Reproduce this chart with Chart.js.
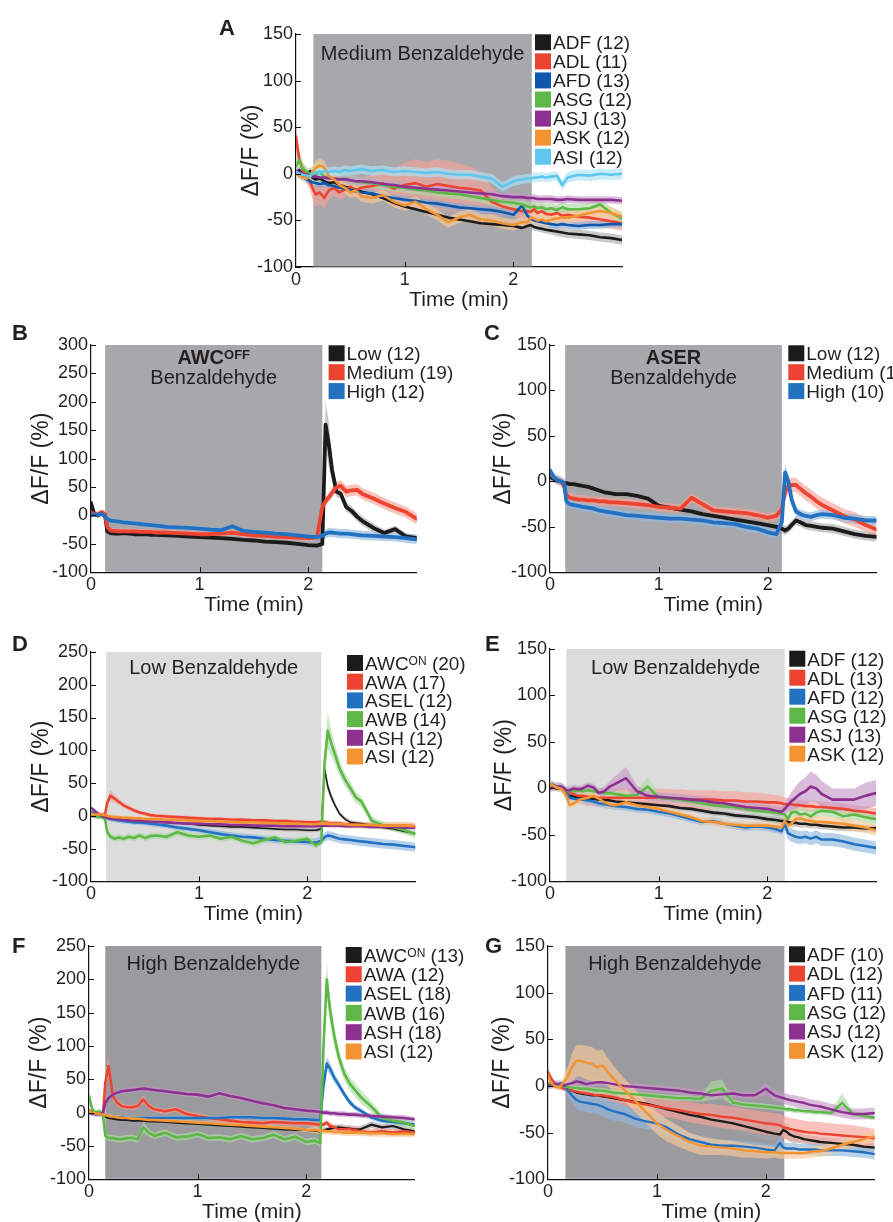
<!DOCTYPE html>
<html>
<head>
<meta charset="utf-8">
<title>Benzaldehyde responses</title>
<script src="https://cdn.jsdelivr.net/npm/chart.js"></script>
<style>
  html, body { margin: 0; padding: 0; background: #fff; }
  body { width: 893px; height: 1222px; position: relative; overflow: hidden; }
  canvas { position: absolute; }
  .letter { position: absolute; font: bold 22px "Liberation Sans", Arial, sans-serif; line-height: 22px; color: #231f20; z-index: 5; }
</style>
</head>
<body>
<script>
// time axis shared by every trace (minutes)
const tMin = [0, 0.03, 0.06, 0.1, 0.13, 0.15, 0.18, 0.22, 0.26, 0.3,
  0.35, 0.4, 0.45, 0.5, 0.55, 0.6, 0.7, 0.8, 0.9, 1.0,
  1.1, 1.2, 1.3, 1.4, 1.5, 1.6, 1.7, 1.8, 1.9, 2.0,
  2.08, 2.13, 2.16, 2.19, 2.22, 2.26, 2.3, 2.35, 2.4, 2.45,
  2.5, 2.6, 2.7, 2.8, 2.9, 3.0];
const xTicks = [0, 1, 2];

// ---- A: medium benzaldehyde, other sensory neurons ----
const legendA = ['ADF (12)', 'ADL (11)', 'AFD (13)', 'ASG (12)', 'ASJ (13)', 'ASK (12)', 'ASI (12)'];
const yTicksA = [-100, -50, 0, 50, 100, 150];
const a_ADF = [2,4,0,-2,3,-4,-6,-5,-8,-10, -9,-12,-14,-15,-17,-19,-22,-26,-31,-35, -38,-41,-44,-47,-49,-51,-53,-54,-55,-56, -58,-56,-55,-57,-58,-59,-60,-61,-62,-63, -64,-65,-66,-68,-69,-71];
const a_ADF_sem = [3,3,3,3,3,3,3,3,3,3, 3,3,3,3,3,3,3,3,3,3, 3,3,3,3,3,3,3,3,4,4, 4,4,4,4,4,4,4,4,5,5, 5,5,5,5,5,5];
const a_ADL = [40,15,5,-3,-8,-15,-22,-20,-26,-18, -15,-20,-17,-14,-18,-15,-13,-10,-16,-12, -10,-14,-11,-13,-15,-16,-18,-30,-35,-38, -40,-40,-41,-38,-42,-40,-43,-44,-42,-45, -44,-46,-47,-49,-51,-53];
const a_ADL_sem = [12,10,8,8,10,12,14,12,12,10, 8,8,8,8,9,10,12,16,20,24, 26,26,27,27,26,24,20,15,10,8, 8,8,8,8,8,8,8,8,8,8, 8,8,8,8,8,8];
const a_AFD = [2,0,-3,-6,-8,-9,-10,-11,-10,-12, -13,-15,-16,-17,-19,-20,-21,-24,-26,-28, -29,-31,-32,-34,-36,-37,-38,-39,-41,-44, -34,-45,-48,-50,-51,-52,-53,-54,-55,-54, -55,-56,-55,-55,-54,-54];
const a_AFD_sem = [4,4,4,4,4,4,4,4,4,4, 4,4,4,4,4,4,4,4,4,4, 4,4,4,4,4,4,4,4,4,4, 4,4,4,4,4,4,4,4,4,4, 4,4,4,4,4,4];
const a_ASG = [8,15,6,2,0,-2,-1,2,-3,-4, -5,-6,-5,-7,-8,-9,-10,-12,-14,-15, -17,-18,-20,-21,-22,-24,-26,-28,-30,-31, -33,-35,-36,-35,-37,-36,-38,-37,-39,-36, -38,-38,-37,-33,-42,-48];
const a_ASG_sem = [5,8,6,5,6,10,12,12,10,8, 6,6,5,5,5,5,5,5,5,5, 5,5,5,5,5,5,5,6,6,6, 6,6,6,6,6,6,6,6,6,6, 6,6,6,6,6,6];
const a_ASJ = [3,2,0,-1,-2,-3,-3,-4,-4,-5, -5,-6,-6,-7,-8,-8,-9,-11,-12,-14, -15,-16,-17,-18,-19,-20,-21,-22,-24,-25, -25,-26,-26,-26,-27,-27,-27,-27,-28,-28, -27,-28,-28,-28,-28,-29];
const a_ASJ_sem = [4,4,4,4,4,4,4,4,4,4, 4,4,4,4,4,4,4,4,4,4, 4,4,4,4,4,4,4,4,4,4, 4,4,4,4,4,4,4,4,4,4, 4,4,4,4,4,4];
const a_ASK = [0,-2,-4,-5,-3,2,6,9,7,-2, -6,-12,-15,-20,-18,-24,-26,-23,-30,-34, -30,-38,-44,-52,-47,-44,-49,-50,-53,-55, -52,-52,-47,-48,-50,-49,-51,-49,-48,-47, -47,-45,-42,-40,-42,-46];
const a_ASK_sem = [4,4,4,4,5,6,8,8,7,6, 6,6,6,6,6,6,6,6,6,6, 6,6,6,6,6,6,6,6,6,6, 6,6,6,6,6,6,6,6,6,6, 6,6,6,6,6,6];
const a_ASI = [2,0,-1,-2,-3,0,2,1,3,2, 3,2,4,3,4,5,3,4,2,3, 2,1,2,0,-1,-1,-3,-5,-14,-8, -6,-5,-5,-4,-4,-3,-4,-3,-2,-12, -4,-1,-2,0,-1,0];
const a_ASI_sem = [5,5,5,5,5,5,5,5,5,5, 5,5,5,5,5,5,5,5,5,5, 5,5,5,5,5,5,5,5,5,5, 5,5,5,5,5,5,5,5,5,5, 6,6,6,6,6,6];

// ---- B: AWC-OFF at three concentrations ----
const legendB = ['Low (12)', 'Medium (19)', 'High (12)'];
const yTicksB = [-100, -50, 0, 50, 100, 150, 200, 250, 300];
const b_low = [22,2,0,3,0,-28,-31,-32,-32,-31, -32,-33,-33,-33,-34,-34,-35,-36,-37,-38, -39,-40,-41,-43,-44,-46,-47,-48,-50,-52, -53,-50,160,125,80,42,38,15,8,-2, -10,-22,-31,-24,-37,-40];
const b_low_sem = [5,3,3,3,3,4,4,4,4,4, 4,4,4,4,4,4,4,4,4,4, 4,4,4,4,4,4,4,4,4,4, 4,4,40,40,20,10,8,8,8,8, 8,8,6,6,6,6];
const b_med = [5,3,2,6,2,-20,-27,-27,-28,-28, -28,-28,-29,-29,-29,-30,-30,-31,-32,-33, -33,-32,-30,-33,-35,-36,-37,-38,-39,-40, -39,15,25,32,40,50,52,42,44,45, 38,30,21,13,6,-6];
const b_med_sem = [5,5,5,5,5,5,5,5,5,5, 5,5,5,5,5,5,5,5,5,5, 5,5,5,5,5,5,5,5,5,5, 5,6,8,8,9,10,10,10,10,10, 10,10,10,10,10,10];
const b_high = [0,2,1,3,-2,-6,-9,-10,-11,-12, -13,-14,-15,-16,-17,-18,-20,-21,-22,-23, -25,-26,-19,-27,-29,-30,-32,-33,-35,-37, -38,-36,-32,-30,-30,-31,-32,-32,-33,-34, -35,-36,-37,-38,-40,-42];
const b_high_sem = [4,4,4,4,4,4,4,4,4,4, 4,4,4,4,4,4,4,4,4,4, 4,4,4,4,4,4,4,4,4,4, 4,6,8,8,8,8,8,8,8,8, 8,8,8,8,8,8];

// ---- C: ASER at three concentrations ----
const legendC = ['Low (12)', 'Medium (11)', 'High (10)'];
const yTicksC = [-100, -50, 0, 50, 100, 150];
const c_low = [5,3,1,0,-2,-2,-3,-3,-4,-5, -6,-8,-10,-12,-13,-14,-14,-16,-19,-27, -29,-31,-33,-36,-38,-40,-42,-44,-46,-48, -50,-52,-54,-52,-48,-43,-45,-48,-49,-50, -51,-52,-55,-58,-60,-61];
const c_low_sem = [4,4,4,4,4,4,4,4,4,4, 4,4,4,4,4,4,4,4,4,4, 4,4,4,4,4,4,4,4,4,4, 5,5,5,5,5,5,5,5,5,5, 5,5,5,5,5,5];
const c_med = [8,5,2,0,-5,-15,-18,-19,-20,-20, -21,-21,-22,-22,-23,-23,-24,-25,-26,-28, -29,-30,-18,-25,-32,-33,-34,-35,-37,-40, -38,-30,-12,-5,-4,-4,-8,-13,-17,-22, -26,-32,-38,-42,-48,-53];
const c_med_sem = [5,5,5,5,5,5,5,5,5,5, 5,5,5,5,5,5,5,5,5,5, 5,5,5,5,5,5,5,5,5,5, 5,8,8,8,8,8,8,8,8,8, 8,8,8,8,8,8];
const c_high = [12,5,2,0,-2,-22,-25,-26,-27,-28, -29,-30,-32,-33,-34,-35,-37,-38,-39,-40, -41,-41,-42,-43,-45,-46,-47,-50,-52,-56, -58,-45,10,0,-20,-33,-36,-38,-39,-37, -36,-37,-40,-41,-43,-43];
const c_high_sem = [5,5,5,5,5,5,5,5,5,5, 5,5,5,5,5,5,5,5,5,5, 5,5,5,5,5,5,5,5,5,5, 5,8,8,8,6,5,5,5,5,5, 5,5,5,5,5,5];

// ---- D: low benzaldehyde, AWC-ON and friends ----
const legendD = ['AWC^ON (20)', 'AWA (17)', 'ASEL (12)', 'AWB (14)', 'ASH (12)', 'ASI (12)'];
const yTicksD = [-100, -50, 0, 50, 100, 150, 200, 250];
const d_awc = [5,3,1,0,-1,-2,-3,-4,-5,-5, -6,-7,-7,-8,-9,-9,-10,-11,-12,-14, -15,-16,-17,-17,-18,-19,-20,-21,-21,-22, -22,-20,72,45,30,15,3,-5,-10,-11, -12,-15,-18,-20,-24,-27];
const d_awc_sem = [3,3,3,3,3,3,3,3,3,3, 3,3,3,3,3,3,3,3,3,3, 3,3,3,3,3,3,3,3,3,3, 3,3,10,8,6,4,3,3,3,3, 3,3,3,3,3,3];
const d_awa = [0,1,1,2,2,20,31,26,21,16, 12,8,5,3,1,0,-1,-2,-3,-4, -5,-5,-6,-6,-7,-7,-8,-8,-9,-10, -10,-9,-10,-11,-12,-12,-12,-13,-13,-13, -14,-14,-15,-15,-15,-16];
const d_awa_sem = [3,3,3,3,3,5,8,6,5,4, 4,3,3,3,3,3,3,3,3,3, 3,3,3,3,3,3,3,3,3,3, 3,3,4,4,4,4,4,4,4,4, 4,4,4,5,5,5];
const d_asel = [5,3,1,0,-2,-3,-5,-6,-7,-8, -9,-10,-10,-11,-12,-13,-15,-18,-20,-22, -25,-28,-30,-32,-33,-35,-37,-38,-39,-40, -41,-38,-33,-30,-31,-33,-35,-36,-37,-38, -39,-41,-43,-44,-46,-48];
const d_asel_sem = [4,4,4,4,4,4,4,4,4,4, 4,4,4,4,4,4,4,4,4,4, 5,5,5,5,5,5,5,5,5,5, 7,7,7,7,7,7,7,7,7,7, 7,7,7,7,7,7];
const d_awb = [0,-1,-2,-2,-5,-25,-32,-35,-33,-35, -32,-34,-30,-34,-31,-30,-32,-25,-30,-32, -30,-35,-32,-38,-42,-37,-33,-40,-38,-35, -45,-40,80,130,112,92,72,55,42,28, 22,-8,-14,-18,-22,-28];
const d_awb_sem = [3,3,3,3,3,5,5,5,5,5, 5,5,5,5,5,5,5,5,5,5, 5,5,5,5,5,5,5,5,5,5, 5,5,15,28,20,15,12,10,10,8, 8,6,6,6,6,6];
const d_ash = [12,8,4,0,-2,-3,-4,-5,-6,-6, -7,-7,-8,-8,-9,-9,-10,-11,-12,-12, -13,-13,-14,-14,-15,-15,-15,-16,-16,-16, -16,-15,-15,-15,-15,-15,-15,-16,-16,-16, -16,-17,-17,-17,-18,-18];
const d_ash_sem = [3,3,3,3,3,3,3,3,3,3, 3,3,3,3,3,3,3,3,3,3, 3,3,3,3,3,3,3,3,3,3, 3,3,3,3,3,3,3,3,3,3, 3,3,3,3,3,3];
const d_asi = [3,2,2,2,1,0,-1,-2,-2,-3, -3,-4,-4,-5,-5,-5,-6,-6,-7,-8, -8,-9,-9,-10,-10,-11,-11,-12,-12,-13, -13,-12,-12,-12,-13,-13,-13,-13,-14,-14, -14,-14,-15,-15,-15,-16];
const d_asi_sem = [3,3,3,3,3,3,3,3,3,3, 3,3,3,3,3,3,3,3,3,3, 3,3,3,3,3,3,3,3,3,3, 5,5,5,5,5,5,5,5,5,5, 5,5,5,5,5,5];

// ---- E: low benzaldehyde, other sensory neurons ----
const legendE = ['ADF (12)', 'ADL (13)', 'AFD (12)', 'ASG (12)', 'ASJ (13)', 'ASK (12)'];
const yTicksE = [-100, -50, 0, 50, 100, 150];
const e_adf = [2,1,0,0,-2,-5,-8,-9,-10,-10, -11,-11,-12,-12,-13,-14,-15,-16,-17,-18, -19,-21,-22,-24,-26,-27,-29,-30,-31,-33, -34,-35,-35,-36,-37,-37,-38,-38,-39,-39, -40,-41,-42,-42,-43,-43];
const e_adf_sem = [3,3,3,3,3,3,3,3,3,3, 3,3,3,3,3,3,3,3,3,3, 3,3,3,3,3,3,3,3,3,3, 4,4,4,4,4,4,4,4,4,4, 4,4,4,4,4,4];
const e_adl = [3,2,1,0,-2,-4,-5,-6,-8,-8, -9,-9,-10,-10,-10,-10,-10,-10,-10,-10, -11,-11,-12,-12,-12,-13,-13,-14,-14,-15, -15,-16,-17,-17,-17,-18,-18,-19,-19,-20, -20,-21,-22,-24,-25,-27];
const e_adl_sem = [3,3,3,3,4,5,6,7,8,9, 10,10,10,10,10,10,10,10,10,10, 10,10,10,10,10,10,10,10,10,9, 8,8,7,7,7,7,6,6,6,6, 6,6,6,6,6,6];
const e_afd = [5,4,2,2,0,-5,-10,-11,-12,-12, -13,-14,-16,-17,-18,-19,-20,-22,-23,-25, -27,-30,-33,-36,-35,-38,-40,-42,-41,-42, -44,-46,-38,-48,-50,-52,-53,-52,-54,-52, -55,-55,-57,-60,-62,-64];
const e_afd_sem = [4,4,4,4,4,4,4,4,4,4, 4,4,4,4,4,4,4,4,4,4, 4,4,4,4,4,4,4,4,4,4, 4,4,7,7,7,7,7,7,7,7, 7,7,7,7,7,7];
const e_asg = [3,2,1,0,-1,-2,-3,-3,-2,-3, -2,-3,-4,-5,-5,-6,-8,-7,2,-10, -11,-12,-14,-16,-18,-19,-20,-22,-24,-25, -26,-27,-28,-33,-26,-25,-28,-27,-30,-26, -24,-25,-30,-28,-31,-33];
const e_asg_sem = [4,4,4,4,4,4,4,4,4,4, 4,4,4,4,4,4,4,4,10,4, 4,4,4,4,4,4,4,4,4,4, 4,4,6,6,6,6,6,6,6,6, 6,6,6,6,6,6];
const e_asj = [0,1,2,2,0,-2,-2,0,-1,0, 3,1,-5,-3,2,5,11,-3,-8,-9, -10,-11,-12,-13,-15,-16,-18,-20,-21,-22, -24,-25,-22,-18,-14,-10,-6,-3,2,0, -6,-12,-12,-12,-8,-5];
const e_asj_sem = [4,4,4,4,4,4,4,4,4,4, 4,4,5,5,6,8,12,6,5,5, 5,5,5,5,5,5,5,5,5,5, 5,5,6,8,10,12,14,15,16,15, 14,12,12,12,14,14];
const e_ask = [5,3,1,0,-4,-8,-18,-16,-13,-11, -10,-8,-11,-15,-17,-18,-15,-18,-20,-22, -25,-28,-31,-35,-36,-38,-39,-40,-40,-40, -41,-42,-35,-40,-38,-33,-32,-34,-35,-36, -36,-37,-38,-40,-42,-45];
const e_ask_sem = [4,4,4,4,4,4,4,4,4,4, 4,4,4,4,4,4,4,4,4,4, 4,4,4,4,4,4,4,4,4,4, 4,4,6,6,6,6,6,6,6,6, 6,6,6,6,6,6];

// ---- F: high benzaldehyde, AWC-ON and friends ----
const legendF = ['AWC^ON (13)', 'AWA (12)', 'ASEL (18)', 'AWB (16)', 'ASH (18)', 'ASI (12)'];
const yTicksF = [-100, -50, 0, 50, 100, 150, 200, 250];
const f_awc = [3,1,0,-2,-4,-6,-8,-9,-10,-11, -11,-12,-12,-12,-13,-13,-14,-15,-16,-17, -18,-19,-20,-21,-22,-23,-24,-25,-26,-26, -27,-28,-27,-25,-24,-23,-22,-23,-24,-25, -25,-18,-22,-20,-25,-28];
const f_awc_sem = [3,3,3,3,3,3,3,3,3,3, 3,3,3,3,3,3,3,3,3,3, 3,3,3,3,3,3,3,3,3,3, 3,3,4,4,4,4,5,5,5,5, 5,5,5,5,5,5];
const f_awa = [0,-1,-2,-2,0,45,70,25,15,10, 8,8,10,20,10,5,2,5,-2,-5, -8,-10,-12,-14,-15,-16,-14,-15,-16,-16, -17,-18,-18,-15,-20,-22,-25,-25,-25,-26, -28,-30,-28,-30,-28,-30];
const f_awa_sem = [3,3,3,3,3,10,15,6,5,4, 4,4,4,6,4,4,4,4,4,4, 4,4,4,4,4,4,4,4,4,4, 4,4,4,4,5,5,5,5,5,5, 5,5,5,5,5,5];
const f_asel = [0,-1,-2,-2,-3,-4,-5,-6,-7,-7, -8,-8,-8,-8,-8,-8,-8,-8,-8,-8, -8,-8,-7,-7,-7,-8,-8,-9,-10,-10, -11,-11,40,74,66,52,42,28,16,8, 3,-7,-12,-14,-16,-18];
const f_asel_sem = [3,3,3,3,3,3,3,3,3,3, 3,3,3,3,3,3,3,3,3,3, 3,3,3,3,3,3,3,3,3,3, 3,3,8,10,9,7,6,5,5,4, 4,4,4,4,4,4];
const f_awb = [25,5,0,2,-5,-35,-38,-38,-40,-40, -38,-38,-40,-22,-30,-35,-30,-37,-36,-32, -38,-37,-40,-35,-40,-38,-33,-40,-36,-44, -42,-46,100,200,154,114,84,59,44,34, 24,9,-8,-12,-15,-20];
const f_awb_sem = [4,4,4,4,4,5,5,5,5,5, 5,5,5,8,6,5,5,5,5,5, 5,5,5,5,5,5,5,5,5,5, 5,5,15,25,20,15,12,10,10,10, 10,8,6,6,6,6];
const f_ash = [0,-1,-2,-2,0,15,22,27,30,32, 33,34,35,36,35,34,32,30,28,27, 24,29,25,22,18,14,11,7,5,3, 2,1,0,0,-1,-1,-2,-2,-3,-3, -4,-5,-6,-7,-8,-10];
const f_ash_sem = [4,4,4,4,4,4,4,4,4,4, 4,4,4,4,4,4,4,4,4,4, 4,4,4,4,4,4,4,4,4,4, 4,4,4,4,4,4,4,4,4,4, 4,4,4,4,4,4];
const f_asi = [2,0,-1,-2,-3,-4,-5,-6,-7,-8, -8,-9,-9,-10,-11,-11,-12,-13,-14,-15, -16,-17,-18,-19,-20,-21,-22,-23,-24,-26, -26,-27,-27,-28,-28,-29,-29,-30,-30,-30, -30,-31,-31,-32,-32,-32];
const f_asi_sem = [3,3,3,3,3,3,3,3,3,3, 3,3,3,3,3,3,3,3,3,3, 3,3,3,3,3,3,3,3,3,3, 5,5,5,5,5,5,5,5,5,5, 5,5,5,5,5,5];

// ---- G: high benzaldehyde, other sensory neurons ----
const legendG = ['ADF (10)', 'ADL (12)', 'AFD (11)', 'ASG (12)', 'ASJ (12)', 'ASK (12)'];
const yTicksG = [-100, -50, 0, 50, 100, 150];
const g_adf = [2,1,0,0,-1,-2,-4,-5,-7,-8, -9,-10,-10,-11,-12,-13,-15,-17,-19,-22, -25,-28,-31,-33,-36,-38,-40,-43,-46,-49, -51,-52,-47,-49,-52,-54,-55,-57,-58,-59, -60,-61,-62,-63,-65,-66];
const g_adf_sem = [3,3,3,3,3,3,3,3,3,3, 3,3,3,3,4,4,4,5,5,6, 6,7,7,8,8,8,8,8,8,8, 8,8,8,8,8,7,6,5,5,5, 5,5,5,5,5,5];
const g_adl = [15,8,3,0,-2,-3,-4,-5,-6,-7, -8,-9,-10,-10,-11,-12,-15,-18,-20,-22, -24,-26,-28,-30,-31,-33,-34,-36,-38,-40, -41,-42,-44,-45,-46,-47,-48,-49,-50,-50, -51,-52,-53,-54,-55,-56];
const g_adl_sem = [4,3,3,3,3,3,3,3,3,4, 4,4,4,5,5,5,6,7,8,9, 10,10,11,11,12,12,12,12,12,12, 12,12,12,12,12,12,12,12,12,12, 12,12,12,12,11,10];
const g_afd = [0,1,2,2,3,2,-5,-10,-15,-17, -18,-19,-20,-22,-25,-27,-30,-35,-38,-40, -45,-52,-57,-60,-63,-64,-64,-65,-66,-68, -69,-61,-66,-67,-67,-67,-68,-68,-68,-68, -69,-69,-69,-70,-71,-73];
const g_afd_sem = [3,3,3,3,3,3,6,8,9,10, 10,10,10,10,10,10,9,9,8,8, 8,7,7,6,6,6,6,6,6,6, 6,6,6,6,6,6,6,6,6,6, 6,6,6,6,6,6];
const g_asg = [3,2,1,0,0,-1,-1,-2,-2,-3, -3,-4,-5,-5,-6,-7,-8,-9,-10,-11, -12,-13,-13,-14,-5,-3,-18,-20,-21,-22, -23,-24,-24,-25,-25,-26,-26,-27,-27,-28, -28,-29,-18,-30,-32,-34];
const g_asg_sem = [3,3,3,3,3,3,3,3,3,3, 3,3,3,3,3,3,3,3,3,3, 3,3,3,3,10,10,3,3,3,3, 3,3,3,3,3,3,3,3,3,3, 3,3,10,3,3,3];
const g_asj = [0,1,2,2,1,0,2,3,5,4, 2,3,4,4,3,2,0,-1,-2,-3, -4,-5,-7,-8,-10,-9,-8,-10,-10,-3, -10,-12,-13,-14,-15,-16,-17,-18,-20,-21, -22,-25,-28,-30,-30,-29];
const g_asj_sem = [4,4,4,4,4,4,4,4,4,4, 4,4,4,4,4,4,4,4,4,4, 4,4,4,4,4,4,4,4,4,6, 6,6,6,6,6,6,6,6,6,6, 6,6,6,6,6,6];
const g_ask = [12,3,0,-2,2,5,10,20,27,27, 25,24,20,22,15,8,-4,-16,-28,-40, -48,-54,-60,-64,-65,-66,-67,-69,-70,-71, -71,-72,-72,-72,-72,-72,-72,-72,-71,-70, -70,-67,-63,-60,-57,-54];
const g_ask_sem = [3,3,3,3,5,8,10,15,17,17, 18,18,18,17,15,14,12,12,12,12, 12,11,10,10,9,8,8,8,7,7, 6,6,6,6,6,6,6,6,6,6, 6,6,6,6,6,6];

const FONT = '"Liberation Sans", Arial, Helvetica, sans-serif';
const INK = '#231f20';
const C = {
  black: '#1b1b1b', red: '#ec4431', blue: '#2372c2', navy: '#0d57ad',
  green: '#5db847', purple: '#8d3190', orange: '#f39433', sky: '#5fc7ee'
};

// error bands: a pale tint of the line colour, mostly opaque
function bandColor(hex) {
  if (hex === C.black) return 'rgba(165, 165, 165, 0.6)';
  const n = parseInt(hex.slice(1), 16);
  const tint = v => Math.round(v + (255 - v) * 0.5);
  return `rgba(${tint(n >> 16)}, ${tint((n >> 8) & 255)}, ${tint(n & 255)}, 0.65)`;
}

const panels = [
  { letter: 'A', letterAt: [219, 17], box: [296, 34, 622, 267], yTicks: yTicksA, stim: [0.16, 2.17], stimFill: '#a8a8ac',
    stimText: ['Medium Benzaldehyde'], stimBold: false, stimTextY: [19], titleOff: 44, legendAt: [535, 42.3], legendRow: 19.07,
    names: legendA, series: [a_ADF, a_ADL, a_AFD, a_ASG, a_ASJ, a_ASK, a_ASI],
    sems: [a_ADF_sem, a_ADL_sem, a_AFD_sem, a_ASG_sem, a_ASJ_sem, a_ASK_sem, a_ASI_sem],
    colors: [C.black, C.red, C.navy, C.green, C.purple, C.orange, C.sky], widths: [2.6, 2.6, 2.6, 2.6, 2.6, 2.6, 2.6] },
  { letter: 'B', letterAt: [12, 322], box: [90.7, 345, 416.5, 572.3], yTicks: yTicksB, stim: [0.13, 2.13], stimFill: '#a8a8ac',
    stimText: ['AWC^OFF', 'Benzaldehyde'], stimBold: true, stimTextY: [11.7, 31.7], titleOff: 49, legendAt: [328.3, 353.3], legendRow: 18.9,
    names: legendB, series: [b_low, b_med, b_high], sems: [b_low_sem, b_med_sem, b_high_sem],
    colors: [C.black, C.red, C.blue], widths: [3.8, 3.8, 3.8] },
  { letter: 'C', letterAt: [484, 322], box: [550, 345, 876.5, 572.3], yTicks: yTicksC, stim: [0.14, 2.13], stimFill: '#a8a8ac',
    stimText: ['ASER', 'Benzaldehyde'], stimBold: true, stimTextY: [12.3, 31.7], titleOff: 46.7, legendAt: [788.3, 353.3], legendRow: 18.9,
    names: legendC, series: [c_low, c_med, c_high], sems: [c_low_sem, c_med_sem, c_high_sem],
    colors: [C.black, C.red, C.blue], widths: [3.8, 3.8, 3.8] },
  { letter: 'D', letterAt: [12, 633], box: [90.7, 651.7, 415, 881], yTicks: yTicksD, stim: [0.14, 2.13], stimFill: '#dcdcdc',
    stimText: ['Low Benzaldehyde'], stimBold: false, stimTextY: [15], titleOff: 49, legendAt: [346.7, 662.7], legendRow: 18.7,
    names: legendD, series: [d_awc, d_awa, d_asel, d_awb, d_ash, d_asi],
    sems: [d_awc_sem, d_awa_sem, d_asel_sem, d_awb_sem, d_ash_sem, d_asi_sem],
    colors: [C.black, C.red, C.blue, C.green, C.purple, C.orange], widths: [1.6, 2.6, 2.6, 2.6, 2.6, 2.6] },
  { letter: 'E', letterAt: [485, 633], box: [550, 649.3, 876, 881.7], yTicks: yTicksE, stim: [0.15, 2.16], stimFill: '#dcdcdc',
    stimText: ['Low Benzaldehyde'], stimBold: false, stimTextY: [17.4], titleOff: 45, legendAt: [789.3, 659], legendRow: 19,
    names: legendE, series: [e_adf, e_adl, e_afd, e_asg, e_asj, e_ask],
    sems: [e_adf_sem, e_adl_sem, e_afd_sem, e_asg_sem, e_asj_sem, e_ask_sem],
    colors: [C.black, C.red, C.blue, C.green, C.purple, C.orange], widths: [2.6, 2.6, 2.6, 2.6, 2.6, 2.6] },
  { letter: 'F', letterAt: [12, 934.7], box: [89.3, 946, 415, 1179.3], yTicks: yTicksF, stim: [0.15, 2.14], stimFill: '#9a9a9f',
    stimText: ['High Benzaldehyde'], stimBold: false, stimTextY: [17.3], titleOff: 49.3, legendAt: [346, 955], legendRow: 19.3,
    names: legendF, series: [f_awc, f_awa, f_asel, f_awb, f_ash, f_asi],
    sems: [f_awc_sem, f_awa_sem, f_asel_sem, f_awb_sem, f_ash_sem, f_asi_sem],
    colors: [C.black, C.red, C.blue, C.green, C.purple, C.orange], widths: [2.2, 2.6, 2.6, 2.6, 2.6, 2.6] },
  { letter: 'G', letterAt: [485, 934.7], box: [548.3, 946, 875, 1179.3], yTicks: yTicksG, stim: [0.16, 2.17], stimFill: '#9a9a9f',
    stimText: ['High Benzaldehyde'], stimBold: false, stimTextY: [17], titleOff: 45, legendAt: [789.3, 954.3], legendRow: 19.3,
    names: legendG, series: [g_adf, g_adl, g_afd, g_asg, g_asj, g_ask],
    sems: [g_adf_sem, g_adl_sem, g_afd_sem, g_asg_sem, g_asj_sem, g_ask_sem],
    colors: [C.black, C.red, C.blue, C.green, C.purple, C.orange], widths: [2.4, 2.4, 2.4, 2.4, 2.4, 2.4] }
];

// catch typos in the hand-entered traces
panels.forEach(p => {
  p.series.forEach((s, i) => {
    if (s.length !== tMin.length || p.sems[i].length !== tMin.length) {
      throw new Error(`panel ${p.letter} trace ${i}: ${s.length}/${p.sems[i].length} points, expected ${tMin.length}`);
    }
  });
});

// text with an optional ^superscript part, y is the middle of the capitals
function drawRich(ctx, x, y, str, size, bold, align) {
  const m = str.match(/^(.*?)\^(\w+)(.*)$/);
  const parts = m ? [[m[1], false], [m[2], true], [m[3], false]] : [[str, false]];
  const fontOf = sup => (bold ? 'bold ' : '') + (sup ? Math.round(size * 0.64) : size) + 'px ' + FONT;
  let w = 0;
  parts.forEach(([s, sup]) => { ctx.font = fontOf(sup); w += ctx.measureText(s).width; });
  let cx = align === 'center' ? x - w / 2 : x;
  const base = y + size * 0.358;
  ctx.textAlign = 'left';
  ctx.textBaseline = 'alphabetic';
  parts.forEach(([s, sup]) => {
    ctx.font = fontOf(sup);
    ctx.fillText(s, cx, sup ? base - size * 0.26 : base);
    cx += ctx.measureText(s).width;
  });
}

const padL = 5, yW = 64, padT = 40, xH = 48, padB = 8, padR = 200;

function decor(p, ox, oy) {
  return {
    id: 'decor' + p.letter,
    beforeDatasetsDraw(chart) {
      const { ctx, chartArea: a, scales: { x } } = chart;
      const x0 = x.getPixelForValue(p.stim[0]);
      const x1 = x.getPixelForValue(p.stim[1]);
      ctx.save();
      ctx.fillStyle = p.stimFill;
      ctx.fillRect(x0, a.top, x1 - x0, a.bottom - a.top - 0.5);
      ctx.fillStyle = INK;
      p.stimText.forEach((s, i) => drawRich(ctx, (x0 + x1) / 2, a.top + p.stimTextY[i], s, 20, p.stimBold && i === 0, 'center'));
      ctx.restore();
    },
    afterDraw(chart) {
      const { ctx, chartArea: a, scales: { x, y } } = chart;
      ctx.save();
      // short inward tick marks
      ctx.strokeStyle = '#111';
      ctx.lineWidth = 1;
      ctx.beginPath();
      p.yTicks.forEach(v => {
        const yy = Math.round(y.getPixelForValue(v)) + 0.5;
        ctx.moveTo(a.left, yy); ctx.lineTo(a.left + 5, yy);
      });
      xTicks.forEach(v => {
        if (v === 0) return;
        const xx = Math.round(x.getPixelForValue(v)) + 0.5;
        ctx.moveTo(xx, a.bottom); ctx.lineTo(xx, a.bottom - 5);
      });
      ctx.stroke();
      // legend: colour squares with labels
      const [lx, ly] = p.legendAt;
      p.names.forEach((name, i) => {
        const cy = ly + i * p.legendRow - oy;
        ctx.fillStyle = p.colors[i];
        ctx.fillRect(lx - ox, cy - 8, 16, 16);
        ctx.fillStyle = INK;
        drawRich(ctx, lx - ox + 18, cy, name, 19, false, 'left');
      });
      ctx.restore();
    }
  };
}

panels.forEach(p => {
  const [l, t, r, b] = p.box;
  const cv = document.createElement('canvas');
  const ox = l - padL - yW, oy = t - padT;
  cv.width = Math.round(padL + yW + (r - l) + padR);
  cv.height = Math.round(padT + (b - t) + xH + padB);
  cv.style.left = ox + 'px';
  cv.style.top = oy + 'px';
  document.body.appendChild(cv);

  const letter = document.createElement('div');
  letter.className = 'letter';
  letter.textContent = p.letter;
  letter.style.left = p.letterAt[0] + 'px';
  letter.style.top = p.letterAt[1] + 'px';
  document.body.appendChild(letter);

  const datasets = [];
  const n = p.series.length;
  p.series.forEach((m, i) => {
    const s = p.sems[i];
    datasets.push({ data: tMin.map((tx, j) => ({ x: tx, y: m[j] + s[j] })), borderWidth: 0, borderColor: 'transparent', fill: false, order: 200 - i });
    datasets.push({ data: tMin.map((tx, j) => ({ x: tx, y: m[j] - s[j] })), borderWidth: 0, borderColor: 'transparent', fill: '-1', backgroundColor: bandColor(p.colors[i]), order: 200 - i });
  });
  p.series.forEach((m, i) => {
    datasets.push({ data: tMin.map((tx, j) => ({ x: tx, y: m[j] })), borderColor: p.colors[i], borderWidth: p.widths[i], fill: false, order: n - i });
  });

  const W = cv.width, H = cv.height;
  new Chart(cv, {
    type: 'line',
    data: { datasets },
    options: {
      responsive: false,
      animation: false,
      events: [],
      elements: { point: { radius: 0 }, line: { tension: 0, borderJoinStyle: 'round', borderCapStyle: 'round' } },
      layout: { padding: { left: padL, top: padT, right: W - (padL + yW + (r - l)), bottom: H - (padT + (b - t) + xH) } },
      plugins: { legend: { display: false }, tooltip: { enabled: false } },
      scales: {
        x: {
          type: 'linear', min: 0, max: 3,
          afterBuildTicks: sc => { sc.ticks = xTicks.map(v => ({ value: v })); },
          afterFit: sc => { sc.height = xH; },
          grid: { display: false, drawTicks: false },
          border: { display: true, color: '#111', width: 1.2 },
          ticks: { font: { family: FONT, size: 18 }, color: INK, padding: 2, maxRotation: 0, autoSkip: false },
          title: { display: true, text: 'Time (min)', font: { family: FONT, size: 21 }, color: INK, padding: { top: 0, bottom: 2.4 } }
        },
        y: {
          type: 'linear', min: p.yTicks[0], max: p.yTicks[p.yTicks.length - 1],
          afterBuildTicks: sc => { sc.ticks = p.yTicks.map(v => ({ value: v })); },
          afterFit: sc => { sc.width = yW; },
          grid: { display: false, drawTicks: false },
          border: { display: true, color: '#111', width: 1.2 },
          ticks: { font: { family: FONT, size: 18 }, color: INK, padding: 3 },
          title: { display: true, text: 'ΔF/F (%)', font: { family: FONT, size: 23 }, color: INK, padding: { top: 64 - 13.8 - p.titleOff, bottom: 0 } }
        }
      }
    },
    plugins: [decor(p, ox, oy)]
  });
});
</script>
</body>
</html>
